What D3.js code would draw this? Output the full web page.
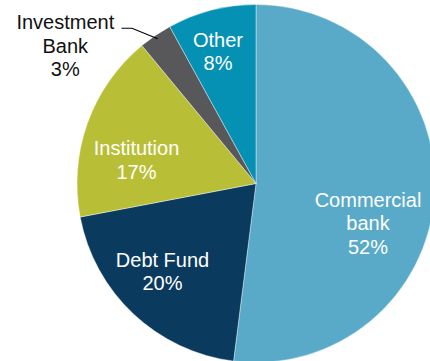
<!DOCTYPE html>
<html>
<head>
<meta charset="utf-8">
<script src="https://cdn.jsdelivr.net/npm/d3@7/dist/d3.min.js"></script>
<style>
  html, body { margin: 0; padding: 0; background: #fff; }
  svg { display: block; }
  text { font-family: "Liberation Sans", Arial, sans-serif; }
</style>
</head>
<body>
<svg id="chart" width="430" height="361"></svg>
<script>
// Lender mix, clockwise from 12 o'clock
const categories = ["Commercial bank", "Debt Fund", "Institution", "Investment Bank", "Other"];
const shares = [52, 20, 17, 3, 8];
const colors = ["#58aac8", "#0b3a5f", "#b8bf37", "#58585a", "#0591b4"];
// Label lines for each slice
const labelLines = [
  ["Commercial", "bank", "52%"],
  ["Debt Fund", "20%"],
  ["Institution", "17%"],
  ["Investment", "Bank", "3%"],
  ["Other", "8%"]
];

const svg = d3.select("#chart");
const cx = 256, cy = 183.5, radius = 179;

const data = categories.map((c, i) => ({ name: c, value: shares[i], color: colors[i], lines: labelLines[i] }));

const pie = d3.pie().sort(null).value(d => d.value).startAngle(0).endAngle(2 * Math.PI);
const arcs = pie(data);
const arc = d3.arc().innerRadius(0).outerRadius(radius);

const g = svg.append("g").attr("transform", `translate(${cx},${cy})`);

g.selectAll("path.slice")
  .data(arcs)
  .join("path")
  .attr("class", "slice")
  .attr("d", arc)
  .attr("fill", d => d.data.color)
  .attr("stroke", "#ffffff")
  .attr("stroke-width", 0.4);

// Label placement: centre x and first baseline, relative to the pie centre
const labelOffsets = [
  [112, 23.2],    // Commercial bank
  [-93.5, 83.2],  // Debt Fund
  [-119.5, -28.5],// Institution
  null,           // Investment Bank (outside, with leader)
  [-38, -136.8]   // Other
];
const fontSize = 20, lineGap = 23.5;

arcs.forEach((a, i) => {
  const off = labelOffsets[i];
  if (!off) return;
  const t = g.append("text")
    .attr("text-anchor", "middle")
    .attr("fill", "#ffffff")
    .attr("font-size", fontSize);
  a.data.lines.forEach((ln, k) => {
    t.append("tspan").attr("x", off[0]).attr("y", off[1] + k * lineGap).text(ln);
  });
});

// Outside label with leader line for the small slice
const inv = arcs[3];
const invMid = (inv.startAngle + inv.endAngle) / 2;
const edgeX = Math.sin(invMid) * (radius - 4) + cx;
const edgeY = -Math.cos(invMid) * (radius - 4) + cy;
svg.append("polyline")
  .attr("points", `${121.5},${28.3} ${132},${28.3} ${edgeX},${edgeY}`)
  .attr("fill", "none")
  .attr("stroke", "#000")
  .attr("stroke-width", 1.1);
const invText = svg.append("text")
  .attr("text-anchor", "middle")
  .attr("fill", "#111")
  .attr("font-size", fontSize);
inv.data.lines.forEach((ln, k) => {
  invText.append("tspan").attr("x", 65.3).attr("y", 29 + k * lineGap).text(ln);
});
</script>
</body>
</html>
